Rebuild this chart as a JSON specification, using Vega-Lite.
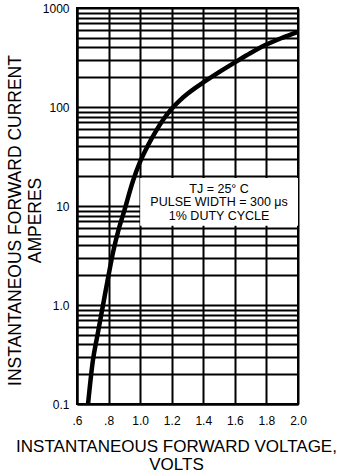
{
  "$schema": "https://vega.github.io/schema/vega-lite/v6.json",
  "width": 221,
  "height": 396,
  "autosize": "none",
  "padding": {"left": 77, "top": 8, "right": 46, "bottom": 69},
  "background": "white",
  "config": {
    "font": "Liberation Sans",
    "view": {"stroke": "black", "strokeWidth": 2},
    "axis": {"gridColor": "black", "gridOpacity": 1, "gridWidth": 2, "domainColor": "black", "domainWidth": 2, "ticks": false, "labelColor": "black", "titleColor": "black", "labelFont": "Liberation Sans", "titleFont": "Liberation Sans", "titleFontWeight": "normal"}
  },
  "datasets": {
    "curve": [
      {"v": 0.67, "i": 0.1},
      {"v": 0.70, "i": 0.27},
      {"v": 0.73, "i": 0.5},
      {"v": 0.765, "i": 1.0},
      {"v": 0.80, "i": 2.0},
      {"v": 0.83, "i": 3.5},
      {"v": 0.86, "i": 5.5},
      {"v": 0.90, "i": 9},
      {"v": 0.955, "i": 18},
      {"v": 1.00, "i": 28},
      {"v": 1.05, "i": 41},
      {"v": 1.10, "i": 57},
      {"v": 1.15, "i": 76},
      {"v": 1.20, "i": 96},
      {"v": 1.25, "i": 116},
      {"v": 1.30, "i": 136},
      {"v": 1.35, "i": 156},
      {"v": 1.40, "i": 177},
      {"v": 1.50, "i": 225},
      {"v": 1.60, "i": 282},
      {"v": 1.70, "i": 351},
      {"v": 1.80, "i": 427},
      {"v": 1.90, "i": 500},
      {"v": 2.00, "i": 575}
    ],
    "box": [{"v": 1.0, "v2": 2.0, "i": 6.3, "i2": 19.2}],
    "notes": [
      {"v": 1.5, "i": 15.0, "t": "TJ = 25° C"},
      {"v": 1.5, "i": 11.0, "t": "PULSE WIDTH = 300 μs"},
      {"v": 1.5, "i": 7.9, "t": "1% DUTY CYCLE"}
    ]
  },
  "encoding": {
    "x": {"field": "v", "type": "quantitative",
      "scale": {"domain": [0.6, 2.0], "nice": false, "zero": false},
      "axis": {
        "values": [0.6, 0.8, 1.0, 1.2, 1.4, 1.6, 1.8, 2.0],
        "labelExpr": "datum.value < 0.99 ? replace(format(datum.value, '.1f'), '0.', '.') : format(datum.value, '.1f')",
        "labelFontSize": 12,
        "labelPadding": 11,
        "labelOverlap": false,
        "labelSeparation": 0,
        "labelBound": false,
        "labelFlush": false,
        "title": ["INSTANTANEOUS FORWARD VOLTAGE,", "VOLTS"],
        "titleFontSize": 17,
        "titleLineHeight": 18,
        "titleX": 99,
        "titleY": 47,
        "titleBaseline": "alphabetic",
        "titleAnchor": null
      }
    },
    "y": {"field": "i", "type": "quantitative",
      "scale": {"type": "log", "domain": [0.1, 1000], "nice": false},
      "axis": {
        "values": [0.1,0.2,0.3,0.4,0.5,0.6,0.7,0.8,0.9,1,2,3,4,5,6,7,8,9,10,20,30,40,50,60,70,80,90,100,200,300,400,500,600,700,800,900,1000],
        "labelExpr": "datum.value == 0.1 ? '0.1' : datum.value == 1 ? '1.0' : datum.value == 10 ? '10' : datum.value == 100 ? '100' : datum.value == 1000 ? '1000' : ''",
        "labelFontSize": 12,
        "labelPadding": 8,
        "labelOverlap": false,
        "title": ["INSTANTANEOUS FORWARD CURRENT", "AMPERES"],
        "titleFontSize": 17.5,
        "titleLineHeight": 20,
        "titleX": -57,
        "titleY": 212,
        "titleBaseline": "alphabetic",
        "titleAngle": -90,
        "titleAnchor": null
      }
    }
  },
  "layer": [
    {
      "data": {"name": "box"},
      "mark": {"type": "rect", "fill": "white", "stroke": null},
      "encoding": {
        "x2": {"field": "v2"},
        "y2": {"field": "i2"}
      }
    },
    {
      "data": {"name": "curve"},
      "mark": {"type": "line", "color": "black", "strokeWidth": 4.5, "interpolate": "monotone"},
      "encoding": {}
    },
    {
      "data": {"name": "notes"},
      "mark": {"type": "text", "fontSize": 12.5, "color": "black", "align": "center", "baseline": "middle"},
      "encoding": {
        "text": {"field": "t"}
      }
    }
  ]
}
